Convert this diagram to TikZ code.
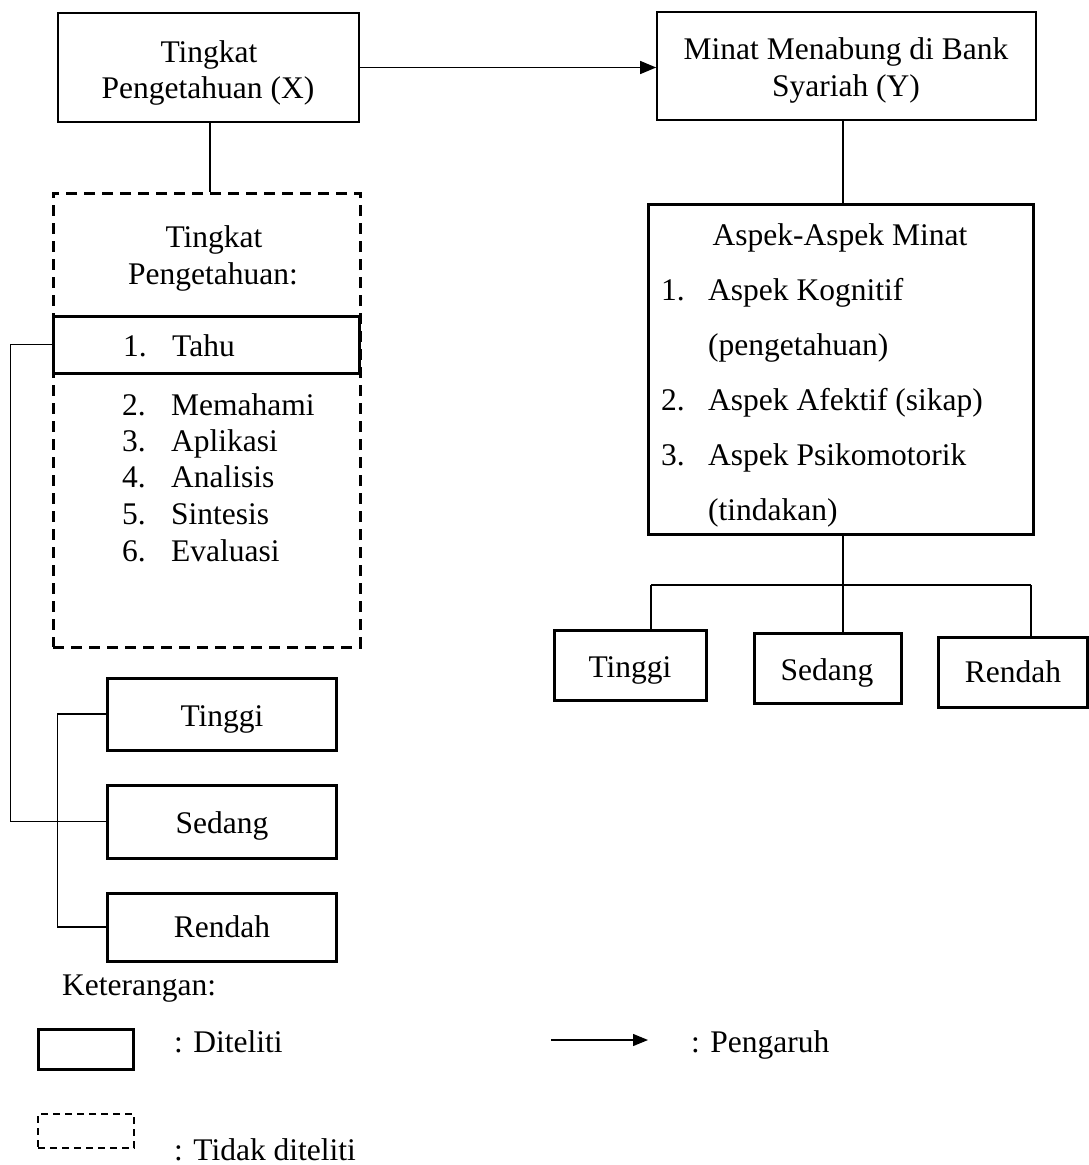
\documentclass[tikz,border=0pt]{standalone}
\usepackage{fontspec}
\setmainfont{Liberation Serif}
\usetikzlibrary{fit,arrows.meta}
\begin{document}
\begin{tikzpicture}[x=1pt,y=-1pt,
  font=\fontsize{31.5}{36}\selectfont,
  thinbox/.style={draw, line width=1.7pt, inner sep=0pt},
  thickbox/.style={draw, line width=3pt, inner sep=0pt},
  dashbox/.style={draw, line width=3pt, inner sep=0pt, dash pattern=on 11pt off 7pt},
  smalldash/.style={draw, line width=2.8pt, inner sep=0pt, dash pattern=on 7pt off 5pt},
  txt/.style={inner sep=0pt, anchor=base},
  ltxt/.style={inner sep=0pt, anchor=base west},
  conn/.style={line width=1.3pt},
  arr/.style={line width=1.3pt, -{Triangle[length=16pt,width=13pt]}}]
\useasboundingbox (0,0) rectangle (1089,1165);

% ---------- left column ----------
\node[thinbox, fit={(58,13) (359,122)}] (X) {};
\node[txt] (xt1) at (209,62) {Tingkat};
\node[txt] (xt2) at (208,98) {Pengetahuan (X)};

\node[dashbox, fit={(53,193) (360,647)}] (D) {};
\node[txt] (dt1) at (214,247) {Tingkat};
\node[txt] (dt2) at (213,284) {Pengetahuan:};

\node[thickbox, fit={(53,316) (359,373)}] (T) {};
\node[ltxt] (n1) at (123,356) {1.};
\node[ltxt] (t1) at (172,356) {Tahu};

\node[ltxt] (n2) at (122,415) {2.};
\node[ltxt] (t2) at (171,415) {Memahami};
\node[ltxt] (n3) at (122,451) {3.};
\node[ltxt] (t3) at (171,451) {Aplikasi};
\node[ltxt] (n4) at (122,487) {4.};
\node[ltxt] (t4) at (171,487) {Analisis};
\node[ltxt] (n5) at (122,524) {5.};
\node[ltxt] (t5) at (171,524) {Sintesis};
\node[ltxt] (n6) at (122,561) {6.};
\node[ltxt] (t6) at (171,561) {Evaluasi};

\node[thickbox, fit={(107,678) (336,750)}] (LTi) {};
\node[txt] (lti) at (222,726) {Tinggi};
\node[thickbox, fit={(107,785) (336,858)}] (LSe) {};
\node[txt] (lse) at (222,833) {Sedang};
\node[thickbox, fit={(107,893) (336,961)}] (LRe) {};
\node[txt] (lre) at (222,937) {Rendah};

% ---------- right column ----------
\node[thinbox, fit={(657,12) (1036,120)}] (Y) {};
\node[txt] (yt1) at (846,59) {Minat Menabung di Bank};
\node[txt] (yt2) at (846,96) {Syariah (Y)};

\node[thickbox, fit={(648,204) (1033,534)}] (A) {};
\node[txt] (at0) at (840,245) {Aspek-Aspek Minat};
\node[ltxt] (an1) at (661,300) {1.};
\node[ltxt] (at1) at (708,300) {Aspek Kognitif};
\node[ltxt] (at1b) at (708,355) {(pengetahuan)};
\node[ltxt] (an2) at (661,410) {2.};
\node[ltxt] (at2) at (708,410) {Aspek Afektif (sikap)};
\node[ltxt] (an3) at (661,465) {3.};
\node[ltxt] (at3) at (708,465) {Aspek Psikomotorik};
\node[ltxt] (at3b) at (708,520) {(tindakan)};

\node[thickbox, fit={(554,630) (706,700)}] (RTi) {};
\node[txt] (rti) at (630,677) {Tinggi};
\node[thickbox, fit={(754,633) (901,703)}] (RSe) {};
\node[txt] (rse) at (827,680) {Sedang};
\node[thickbox, fit={(938,637) (1087,707)}] (RRe) {};
\node[txt] (rre) at (1013,682) {Rendah};

% ---------- connectors ----------
\draw[arr] (X.east) -- (X.east -| Y.west);
\coordinate (xs) at (210,122);
\draw[conn] (xs) -- (xs |- D.north);
\draw[conn] (T.west) -- ++(-41,0) |- (LSe.west);
\draw[conn] (LTi.west) -- ++(-48,0) |- (LRe.west);

\coordinate (ys) at (843,120);
\draw[conn] (ys) -- (ys |- A.north);
\coordinate (as) at (843,534);
\draw[conn] (as) -- (as |- RSe.north);
\coordinate (hl) at (651,585);
\coordinate (hr) at (1031,585);
\draw[conn] (hl) -- (hr);
\draw[conn] (hl) -- (hl |- RTi.north);
\draw[conn] (hr) -- (hr |- RRe.north);

% ---------- legend ----------
\node[ltxt] (ket) at (62,995) {Keterangan:};
\node[thickbox, fit={(38,1029) (133,1069)}] (L1) {};
\node[ltxt] (l1t) at (174,1052) {: Diteliti};
\coordinate (la) at (551,1040);
\coordinate (lb) at (648,1040);
\draw[line width=1.3pt, -{Triangle[length=15pt,width=12pt]}] (la) -- (lb);
\node[ltxt] (l2t) at (691,1052) {: Pengaruh};
\node[smalldash, fit={(38,1114) (134,1148)}] (L2) {};
\node[ltxt] (l3t) at (174,1160) {: Tidak diteliti};
\end{tikzpicture}
\end{document}
